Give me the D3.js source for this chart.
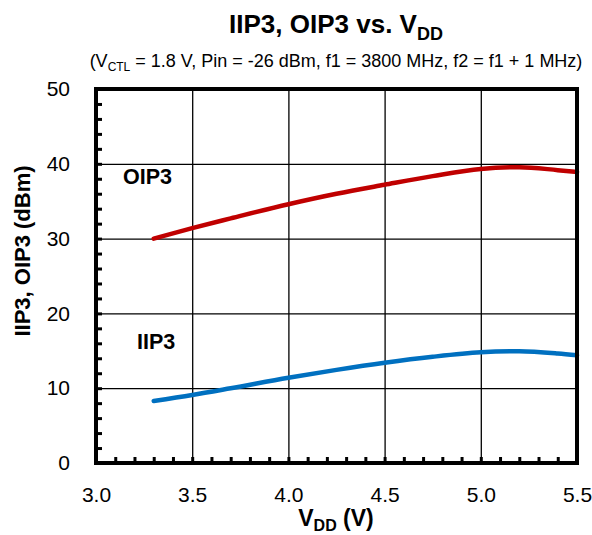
<!DOCTYPE html>
<html><head><meta charset="utf-8">
<script src="https://cdn.jsdelivr.net/npm/d3@7"></script>
<style>
body{margin:0;background:#fff;}
svg{display:block;font-family:"Liberation Sans",Arial,sans-serif;}
</style></head>
<body><svg id="c" width="592" height="535"></svg>
<script>
const vdd = [3.3, 3.5, 3.7, 4.0, 4.25, 4.5, 4.75, 5.0, 5.2, 5.4, 5.5];
const oip3 = [30.0, 31.4, 32.7, 34.6, 36.0, 37.2, 38.35, 39.3, 39.55, 39.15, 38.9];
const iip3 = [8.3, 9.1, 10.0, 11.4, 12.45, 13.4, 14.2, 14.8, 14.95, 14.65, 14.4];
const xTicks = [3.0, 3.5, 4.0, 4.5, 5.0, 5.5];
const yTicks = [0, 10, 20, 30, 40, 50];

const svg = d3.select("#c");
const L = 96, R = 577, T = 89, B = 463;
const x = d3.scaleLinear().domain([3.0, 5.5]).range([L, R]);
const y = d3.scaleLinear().domain([0, 50]).range([B, T]);

// grid
const g = svg.append("g");
g.append("g").attr("transform", `translate(0,${B})`)
  .call(d3.axisBottom(x).tickValues(xTicks).tickSize(-(B - T)).tickFormat(""))
  .call(a => { a.select(".domain").remove(); a.selectAll("line").attr("stroke", "#000").attr("stroke-width", 1.3); });
g.append("g").attr("transform", `translate(${L},0)`)
  .call(d3.axisLeft(y).tickValues(yTicks).tickSize(-(R - L)).tickFormat(""))
  .call(a => { a.select(".domain").remove(); a.selectAll("line").attr("stroke", "#000").attr("stroke-width", 1.3); });

// minor ticks
const xMinor = d3.range(30, 56).map(d => d / 10);
const yMinor = d3.range(0, 51, 2);
g.append("g").attr("transform", `translate(0,${B})`)
  .call(d3.axisBottom(x).tickValues(xMinor).tickSize(-6).tickFormat(""))
  .call(a => { a.select(".domain").remove(); a.selectAll("line").attr("stroke", "#000").attr("stroke-width", 3); });
g.append("g").attr("transform", `translate(${L},0)`)
  .call(d3.axisLeft(y).tickValues(yMinor).tickSize(-6).tickFormat(""))
  .call(a => { a.select(".domain").remove(); a.selectAll("line").attr("stroke", "#000").attr("stroke-width", 3); });

// lines
const line = d3.line().x((d, i) => x(vdd[i])).y(d => y(d)).curve(d3.curveMonotoneX);
svg.append("path").datum(oip3).attr("d", line).attr("fill", "none").attr("stroke", "#C00000").attr("stroke-width", 4.5).attr("stroke-linecap", "round");
svg.append("path").datum(iip3).attr("d", line).attr("fill", "none").attr("stroke", "#0070C0").attr("stroke-width", 4.5).attr("stroke-linecap", "round");

// frame
svg.append("rect").attr("x", L).attr("y", T).attr("width", R - L).attr("height", B - T)
  .attr("fill", "none").attr("stroke", "#000").attr("stroke-width", 4);

// tick labels
const xa = svg.append("g").attr("transform", `translate(0,${B})`)
  .call(d3.axisBottom(x).tickValues(xTicks).tickSize(0).tickPadding(24).tickFormat(d3.format(".1f")));
xa.select(".domain").remove();
xa.selectAll("text").attr("font-size", 21).attr("fill", "#000").attr("font-family", "Liberation Sans, Arial, sans-serif");
const ya = svg.append("g").attr("transform", `translate(${L},0)`)
  .call(d3.axisLeft(y).tickValues(yTicks).tickSize(0).tickPadding(26).tickFormat(d3.format("d")));
ya.select(".domain").remove();
ya.selectAll("text").attr("font-size", 21).attr("fill", "#000").attr("font-family", "Liberation Sans, Arial, sans-serif");

// series labels
svg.append("text").attr("x", 123).attr("y", 184).attr("font-size", 21.5).attr("font-weight", "bold").text("OIP3");
svg.append("text").attr("x", 137).attr("y", 349).attr("font-size", 21.5).attr("font-weight", "bold").text("IIP3");

// title
const t = svg.append("text").attr("x", 336).attr("y", 33).attr("text-anchor", "middle").attr("font-size", 26).attr("font-weight", "bold");
t.append("tspan").text("IIP3, OIP3 vs. V");
t.append("tspan").attr("font-size", 18).attr("dy", 7).text("DD");
const st = svg.append("text").attr("x", 336).attr("y", 67).attr("text-anchor", "middle").attr("font-size", 18);
st.append("tspan").text("(V");
st.append("tspan").attr("font-size", 12).attr("dy", 4).text("CTL");
st.append("tspan").attr("dy", -4).text(" = 1.8 V, Pin = -26 dBm, f1 = 3800 MHz, f2 = f1 + 1 MHz)");

// axis titles
const xt = svg.append("text").attr("x", 336).attr("y", 526).attr("text-anchor", "middle").attr("font-size", 23).attr("font-weight", "bold");
xt.append("tspan").text("V");
xt.append("tspan").attr("font-size", 16).attr("dy", 5).text("DD");
xt.append("tspan").attr("dy", -5).text(" (V)");
svg.append("text").attr("transform", `translate(30,251) rotate(-90)`).attr("text-anchor", "middle")
  .attr("font-size", 22).attr("font-weight", "bold").text("IIP3, OIP3 (dBm)");
</script></body></html>
